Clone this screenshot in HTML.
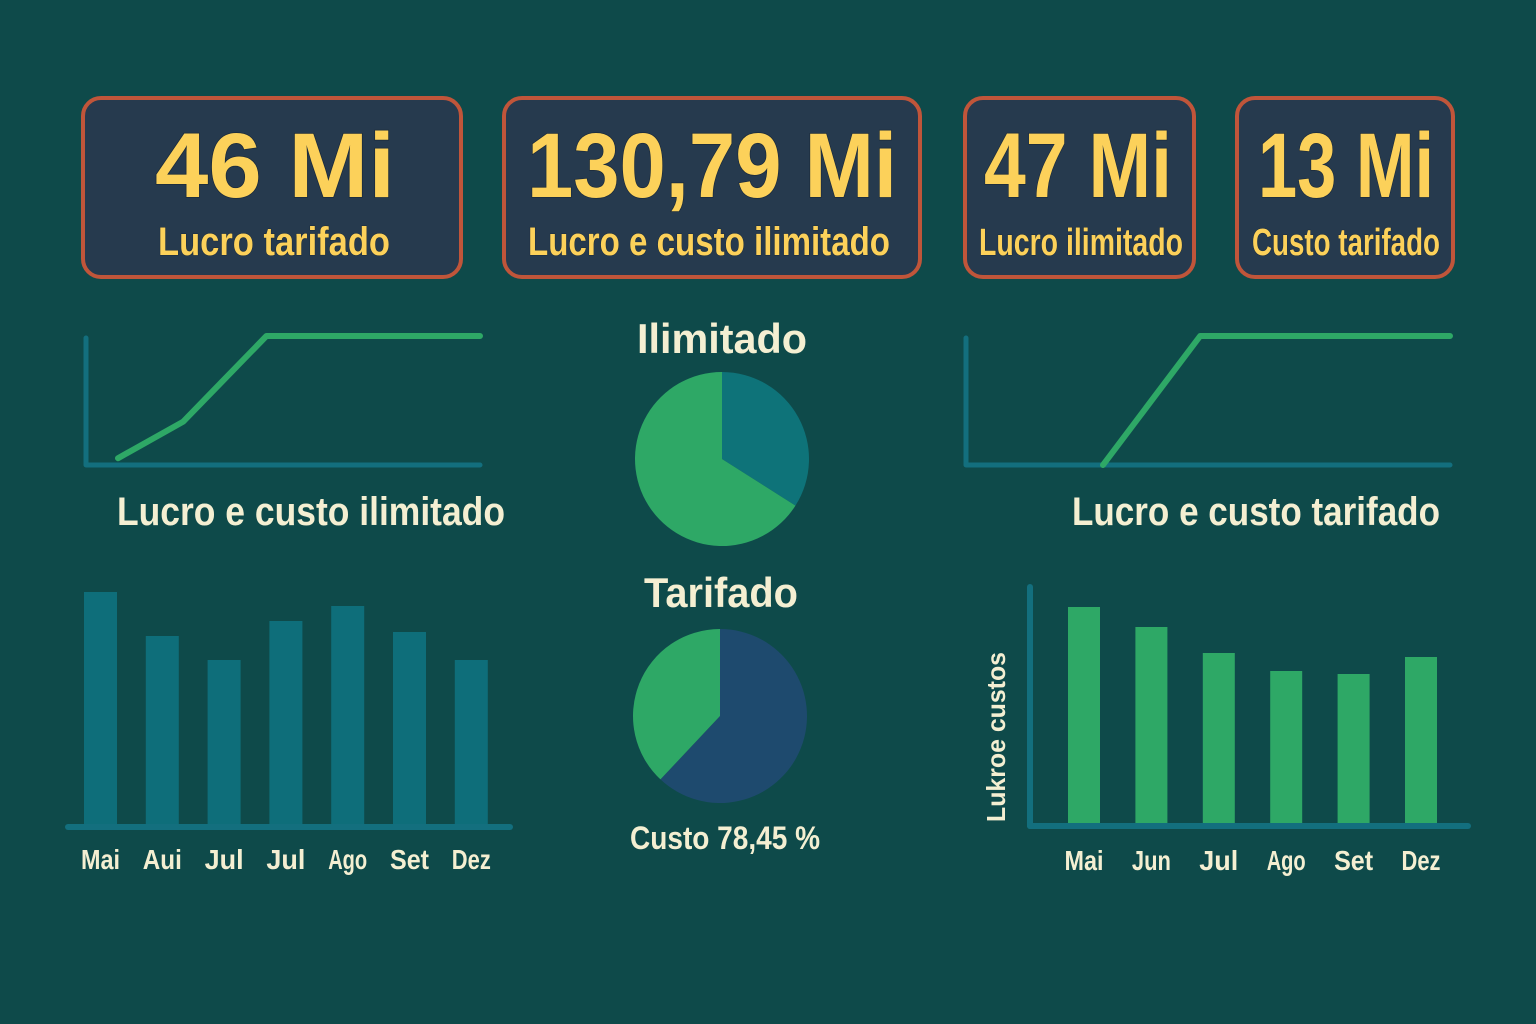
<!DOCTYPE html>
<html><head><meta charset="utf-8"><style>
html,body{margin:0;padding:0;background:#0e4a4a;}
svg{display:block;font-family:"Liberation Sans Narrow","Liberation Sans",sans-serif;}
.big{font-weight:bold;fill:#fcd15a;stroke:#1b2a3a;stroke-width:1.5;paint-order:stroke;}
.lbl{fill:#fcd15a;stroke:#1b2a3a;stroke-width:1;paint-order:stroke;font-weight:bold;}
.cream{fill:#f4efd2;font-weight:bold;}
</style></head><body>
<svg id="s" width="1536" height="1024" viewBox="0 0 1536 1024">
<rect width="1536" height="1024" fill="#0e4a4a"/>
<g>
<rect x="83" y="98" width="378" height="179" rx="18" fill="#263a4e" stroke="#c0553a" stroke-width="4"/>
<text class="big" x="275" y="197" text-anchor="middle" font-size="92" textLength="240" lengthAdjust="spacingAndGlyphs">46 Mi</text>
<text class="lbl" x="274" y="255" text-anchor="middle" font-size="40" textLength="232" lengthAdjust="spacingAndGlyphs">Lucro tarifado</text></g>
<g>
<rect x="504" y="98" width="416" height="179" rx="18" fill="#263a4e" stroke="#c0553a" stroke-width="4"/>
<text class="big" x="712" y="197" text-anchor="middle" font-size="92" textLength="370" lengthAdjust="spacingAndGlyphs">130,79 Mi</text>
<text class="lbl" x="709" y="255" text-anchor="middle" font-size="40" textLength="362" lengthAdjust="spacingAndGlyphs">Lucro e custo ilimitado</text></g>
<g>
<rect x="965" y="98" width="229" height="179" rx="18" fill="#263a4e" stroke="#c0553a" stroke-width="4"/>
<text class="big" x="1078" y="197" text-anchor="middle" font-size="92" textLength="188" lengthAdjust="spacingAndGlyphs">47 Mi</text>
<text class="lbl" x="1081" y="255" text-anchor="middle" font-size="38" textLength="204" lengthAdjust="spacingAndGlyphs">Lucro ilimitado</text></g>
<g>
<rect x="1237" y="98" width="216" height="179" rx="18" fill="#263a4e" stroke="#c0553a" stroke-width="4"/>
<text class="big" x="1346" y="197" text-anchor="middle" font-size="92" textLength="176" lengthAdjust="spacingAndGlyphs">13 Mi</text>
<text class="lbl" x="1346" y="255" text-anchor="middle" font-size="38" textLength="188" lengthAdjust="spacingAndGlyphs">Custo tarifado</text></g>

<g id="lineL"></g>
<g id="lineR"></g>
<text class="cream" x="311" y="525" text-anchor="middle" font-size="40" textLength="388" lengthAdjust="spacingAndGlyphs">Lucro e custo ilimitado</text>
<text class="cream" x="1256" y="525" text-anchor="middle" font-size="40" textLength="368" lengthAdjust="spacingAndGlyphs">Lucro e custo tarifado</text>

<text class="cream" x="722" y="353" text-anchor="middle" font-size="42" textLength="170" lengthAdjust="spacingAndGlyphs">Ilimitado</text>
<text class="cream" x="721" y="607" text-anchor="middle" font-size="42" textLength="154" lengthAdjust="spacingAndGlyphs">Tarifado</text>
<g id="pie1"></g>
<g id="pie2"></g>
<text class="cream" x="725" y="849" text-anchor="middle" font-size="32" textLength="190" lengthAdjust="spacingAndGlyphs">Custo 78,45 %</text>

<g id="barL"></g>
<g id="barR"></g>
<text class="cream" transform="translate(1005,822) rotate(-90)" font-size="26" textLength="170" lengthAdjust="spacingAndGlyphs">Lukroe custos</text>
</svg>
<script>
const NS='http://www.w3.org/2000/svg';
// data
const leftCats=['Mai','Aui','Jul','Jul','Ago','Set','Dez'];
const leftVals=[232,188,164,203,218,192,164];
const rightCats=['Mai','Jun','Jul','Ago','Set','Dez'];
const rightVals=[216,196,170,152,149,166];
const lineLX=[0,0.18,0.41,1];
const lineLY=[0.03,0.32,1,1];
const lineRX=[0,0.28,1];
const lineRY=[0,1,1];
const pie1Vals=[0.34,0.66];
const pie2Vals=[0.62,0.38];

function mk(tag,attrs,parent){const e=document.createElementNS(NS,tag);for(const k in attrs)e.setAttribute(k,attrs[k]);parent.appendChild(e);return e;}

function bars(g,cats,vals,x0,step,bw,base,color,labY,lw){
  const yS=v=>base-v;
  cats.forEach((c,i)=>{
    const x=x0+i*step;
    const r=mk('rect',{x:x,y:yS(vals[i]),width:bw,height:base-yS(vals[i]),fill:color},g);
    
    
    const t=mk('text',{x:x+bw/2,y:labY,'text-anchor':'middle','font-size':28,class:'cream',textLength:c.length*13,lengthAdjust:'spacingAndGlyphs'},g);
    t.textContent=c;
    
    
  });
}
const bl=document.getElementById('barL');
mk('line',{x1:68,y1:827,x2:510,y2:827,stroke:'#136f7e','stroke-width':6,'stroke-linecap':'round'},bl);
bars(bl,leftCats,leftVals,84,61.8,33,824,'#0e6e7a',869);
const br=document.getElementById('barR');
mk('line',{x1:1030,y1:587,x2:1030,y2:826,stroke:'#136f7e','stroke-width':6,'stroke-linecap':'round'},br);
mk('line',{x1:1030,y1:826,x2:1468,y2:826,stroke:'#136f7e','stroke-width':6,'stroke-linecap':'round'},br);
bars(br,rightCats,rightVals,1068,67.4,32,823,'#2ea866',870);

function line(g,xs,ys,ax,x1,yb,yt,lx0){
  mk('polyline',{points:`${ax},338 ${ax},465 ${x1},465`,fill:'none',stroke:'#136f7e','stroke-width':5,'stroke-linecap':'round','stroke-linejoin':'round'},g);
  const pts=xs.map((x,i)=>(lx0+x*(x1-lx0))+','+(yb-ys[i]*(yb-yt))).join(' ');
  const p=mk('polyline',{points:pts,fill:'none',stroke:'#2ea866','stroke-width':6,'stroke-linecap':'round','stroke-linejoin':'round'},g);
  
  
}
line(document.getElementById('lineL'),lineLX,lineLY,86,480,462,336,118);
line(document.getElementById('lineR'),lineRX,lineRY,966,1450,465,336,1103);

function pie(g,vals,colors,cx,cy,r){
  let a=0;
  vals.forEach((v,i)=>{
    const a2=a+v*2*Math.PI;
    const p=(t)=>[cx+r*Math.sin(t),cy-r*Math.cos(t)];
    const [sx,sy]=p(a),[ex,ey]=p(a2);
    const s=mk('path',{d:`M${cx},${cy} L${sx},${sy} A${r},${r} 0 ${v>0.5?1:0} 1 ${ex},${ey} Z`,fill:colors[i]},g);
    
    
    a=a2;
  });
}
pie(document.getElementById('pie1'),pie1Vals,['#0e7379','#2ea866'],722,459,87);
pie(document.getElementById('pie2'),pie2Vals,['#1e4a6e','#2ea866'],720,716,87);
</script>
</body></html>
